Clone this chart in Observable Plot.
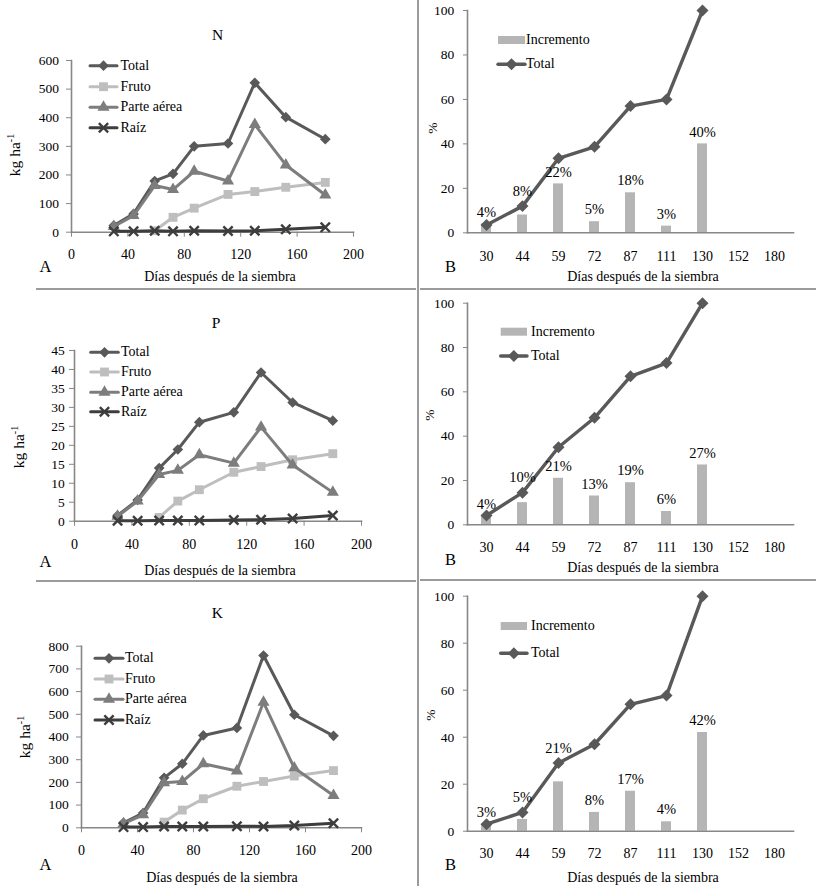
<!DOCTYPE html>
<html><head><meta charset="utf-8">
<script src="https://cdn.jsdelivr.net/npm/d3@7"></script>
<script src="https://cdn.jsdelivr.net/npm/@observablehq/plot@0.6"></script>
<style>
body{margin:0;background:#fff;}
#root{position:relative;width:816px;height:890px;overflow:hidden;font-family:"Liberation Serif","Times New Roman",serif;color:#000;background:#fff;}
.abs{position:absolute;line-height:1;white-space:nowrap;}
.sep{position:absolute;background:#9b9b9b;}
#root svg{position:absolute;}
</style></head><body><div id="root"></div><script>
// ---------------- data ----------------
const days = [30, 44, 59, 72, 87, 111, 130, 152, 180];
const seriesNames = ["Total", "Fruto", "Parte aérea", "Raíz"];
const xTicks = [0, 40, 80, 120, 160, 200];

const N_total = [23, 64, 179, 204, 300, 310, 522, 402, 325];
const N_fruto = [null, null, 5, 52, 84, 132, 142, 157, 174];
const N_aerea = [20, 58, 163, 149, 213, 179, 376, 235, 130];
const N_raiz  = [3, 3, 5, 3, 5, 4, 5, 10, 17];

const P_total = [1.5, 5.6, 14.0, 18.9, 26.1, 28.7, 39.2, 31.3, 26.5];
const P_fruto = [null, null, 1.0, 5.3, 8.3, 12.9, 14.4, 16.2, 17.8];
const P_aerea = [1.3, 5.3, 12.3, 13.4, 17.5, 15.3, 24.8, 14.8, 7.6];
const P_raiz  = [0.1, 0.1, 0.2, 0.2, 0.2, 0.3, 0.4, 0.7, 1.5];

const K_total = [22, 65, 220, 282, 407, 440, 759, 498, 405];
const K_fruto = [null, null, 25, 78, 128, 183, 204, 228, 252];
const K_aerea = [18, 57, 198, 204, 282, 250, 553, 263, 142];
const K_raiz  = [3, 3, 6, 6, 6, 7, 6, 10, 20];

const N_yTicks = [0, 100, 200, 300, 400, 500, 600];
const P_yTicks = [0, 5, 10, 15, 20, 25, 30, 35, 40, 45];
const K_yTicks = [0, 100, 200, 300, 400, 500, 600, 700, 800];

const dayLabels = ["30", "44", "59", "72", "87", "111", "130", "152", "180"];
const incDays = ["30", "44", "59", "72", "87", "111", "130"];
const pctTicks = [0, 20, 40, 60, 80, 100];
const N_inc = [4, 8, 22, 5, 18, 3, 40];
const N_cum = [3.5, 12, 33.5, 38.7, 57, 60, 100];
const P_inc = [4, 10, 21, 13, 19, 6, 27];
const P_cum = [4.2, 14.5, 35, 48.3, 67, 73, 100];
const K_inc = [3, 5, 21, 8, 17, 4, 42];
const K_cum = [3, 8, 29, 37, 54, 57.7, 100];

// ---------------- styles ----------------
const FONT = "Liberation Serif, Times New Roman, serif";
const axisGray = "#878787";
const barGray = "#b5b5b5";
const styles = [
  {color: "#595959", symbol: "diamond2", r: 4.8, filled: true},
  {color: "#bebebe", symbol: "square", r: 5.0, filled: true},
  {color: "#7d7d7d", symbol: "triangle", r: 4.5, filled: true},
  {color: "#3d3d3d", symbol: "times", r: 4.3, filled: false}
];
const d3sym = {diamond2: d3.symbolDiamond2, square: d3.symbolSquare, triangle: d3.symbolTriangle, times: d3.symbolTimes};

const root = document.getElementById("root");

function place(svg, left, top) {
  svg.style.left = left + "px";
  svg.style.top = top + "px";
  root.appendChild(svg);
}

function leftPanel(cfg) {
  const rows = [];
  cfg.series.forEach((vals, si) => vals.forEach((v, i) => {
    if (v != null) rows.push({day: days[i], value: v, s: seriesNames[si]});
  }));
  const marks = [
    Plot.frame({anchor: "left", stroke: axisGray, strokeWidth: 1.6}),
    Plot.frame({anchor: "bottom", stroke: axisGray, strokeWidth: 1.6}),
    Plot.axisX({ticks: xTicks, tickSize: 5, tickPadding: cfg.xPad, stroke: axisGray, fill: "#000", label: null, fontSize: 14}),
    Plot.axisY({ticks: cfg.yTicks, tickSize: 5, tickPadding: cfg.yPad, stroke: axisGray, fill: "#000", label: null, fontSize: 13.5})
  ];
  seriesNames.forEach((name, si) => {
    const st = styles[si];
    const d = rows.filter(r => r.s === name);
    marks.push(Plot.line(d, {x: "day", y: "value", stroke: st.color, strokeWidth: 3}));
    marks.push(Plot.dot(d, st.filled
      ? {x: "day", y: "value", symbol: st.symbol, r: st.r, fill: st.color, stroke: "none"}
      : {x: "day", y: "value", symbol: st.symbol, r: st.r, fill: "none", stroke: st.color, strokeWidth: 2.4}));
  });
  const svg = Plot.plot({
    width: cfg.width, height: cfg.height,
    marginLeft: cfg.ml, marginRight: cfg.mr, marginTop: cfg.mt, marginBottom: cfg.mb,
    x: {domain: [0, 200]},
    y: {domain: [0, cfg.yTicks[cfg.yTicks.length - 1]]},
    style: {fontFamily: FONT, fontSize: "14px", color: "#000", background: "transparent", overflow: "visible"},
    marks
  });
  place(svg, cfg.left, cfg.top);
}

function rightPanel(cfg) {
  const data = incDays.map((d, i) => ({day: d, inc: cfg.inc[i], cum: cfg.cum[i]}));
  const k = (cfg.height - cfg.mt - cfg.mb) / 100; // px per %
  data.forEach(d => {
    let ly = d.inc + 12 / k;
    if (Math.abs(ly - d.cum) * k < 10) ly = d.cum + 15 / k;
    d.ly = ly;
  });
  const svg = Plot.plot({
    width: cfg.width, height: cfg.height,
    marginLeft: cfg.ml, marginRight: cfg.mr, marginTop: cfg.mt, marginBottom: cfg.mb,
    x: {type: "band", domain: dayLabels, paddingInner: 0.72, paddingOuter: 0.36},
    y: {domain: [0, 100]},
    style: {fontFamily: FONT, fontSize: "14px", color: "#000", background: "transparent", overflow: "visible"},
    marks: [
      Plot.barY(data, {x: "day", y: "inc", fill: barGray}),
      Plot.frame({anchor: "left", stroke: axisGray, strokeWidth: 1.6}),
      Plot.frame({anchor: "bottom", stroke: axisGray, strokeWidth: 1.6}),
      Plot.axisX({tickSize: 0, tickPadding: cfg.xPad, fill: "#000", label: null, fontSize: 14}),
      Plot.axisY({ticks: pctTicks, tickSize: 4, tickPadding: cfg.yPad, stroke: axisGray, fill: "#000", label: null, fontSize: 13.5}),
      Plot.line(data, {x: "day", y: "cum", stroke: "#595959", strokeWidth: 3.4}),
      Plot.dot(data, {x: "day", y: "cum", symbol: "diamond2", r: 5.4, fill: "#595959", stroke: "none"}),
      Plot.text(data, {x: "day", y: "ly", text: d => d.inc + "%", fontSize: 14.5, fill: "#000"})
    ]
  });
  place(svg, cfg.left, cfg.top);
}

// ---------------- panels ----------------
leftPanel({left: 0, top: 0, width: 416, height: 288, ml: 71, mr: 63, mt: 60, mb: 56.3, xPad: 12, yPad: 7.4,
  yTicks: N_yTicks, series: [N_total, N_fruto, N_aerea, N_raiz]});
leftPanel({left: 0, top: 290, width: 416, height: 290, ml: 74, mr: 55, mt: 60, mb: 59.3, xPad: 13, yPad: 4.7,
  yTicks: P_yTicks, series: [P_total, P_fruto, P_aerea, P_raiz]});
leftPanel({left: 0, top: 580, width: 416, height: 310, ml: 81, mr: 55, mt: 65.7, mb: 62.7, xPad: 12.4, yPad: 7.7,
  yTicks: K_yTicks, series: [K_total, K_fruto, K_aerea, K_raiz]});

rightPanel({left: 420, top: 0, width: 396, height: 288, ml: 47, mr: 23, mt: 10, mb: 55.7, xPad: 18.4, yPad: 9.3, inc: N_inc, cum: N_cum});
rightPanel({left: 420, top: 290, width: 396, height: 290, ml: 47, mr: 23, mt: 12.7, mb: 55.7, xPad: 17.1, yPad: 9.3, inc: P_inc, cum: P_cum});
rightPanel({left: 420, top: 580, width: 396, height: 310, ml: 47, mr: 23, mt: 15.7, mb: 59.3, xPad: 17.3, yPad: 9.3, inc: K_inc, cum: K_cum});

// ---------------- text overlays ----------------
function txt(html, x, y, size, opts = {}) {
  const el = document.createElement("div");
  el.className = "abs";
  el.innerHTML = html;
  el.style.left = x + "px";
  el.style.top = y + "px";
  el.style.fontSize = size + "px";
  const tx = opts.anchor === "start" ? "0" : "-50%";
  el.style.transform = `translate(${tx},-50%)` + (opts.rotate ? ` rotate(${opts.rotate}deg)` : "");
  root.appendChild(el);
}
const xTitle = "Días después de la siembra";
const kg = 'kg ha<sup style="font-size:10px;vertical-align:6px;line-height:0">-1</sup>';

[["N", 217.7, 35], ["P", 216, 323.3], ["K", 217.3, 613.3]].forEach(([t, x, y]) => txt(t, x, y, 15.5));
[[45.5, 267], [45.5, 561.7], [45.5, 865]].forEach(([x, y]) => txt("A", x, y, 16.5));
[[450.5, 267], [450.5, 560], [450.5, 865]].forEach(([x, y]) => txt("B", x, y, 16.5));
[[220, 277], [220, 570.7], [222, 878.3], [643, 276.7], [643, 568.3], [643, 878.3]].forEach(([x, y]) => txt(xTitle, x, y, 14));
[[14.5, 155], [19, 446.7], [25, 737]].forEach(([x, y]) => txt(kg, x, y, 15.5, {rotate: -90}));
[[433, 128], [430, 415], [431, 715]].forEach(([x, y]) => txt("%", x, y, 13.5, {rotate: -90}));

// ---------------- legends ----------------
const ov = d3.select(root).append("svg").attr("width", 816).attr("height", 890)
  .style("left", "0px").style("top", "0px").style("pointer-events", "none");

function seriesLegend(x1, x2, tx, ys) {
  seriesNames.forEach((name, i) => {
    const st = styles[i], y = ys[i];
    ov.append("line").attr("x1", x1).attr("x2", x2).attr("y1", y).attr("y2", y)
      .attr("stroke", st.color).attr("stroke-width", 3).attr("stroke-linecap", "round");
    const p = ov.append("path").attr("d", d3.symbol(d3sym[st.symbol], Math.PI * st.r * st.r)())
      .attr("transform", `translate(${(x1 + x2) / 2},${y})`);
    if (st.filled) p.attr("fill", st.color);
    else p.attr("fill", "none").attr("stroke", st.color).attr("stroke-width", 2.4);
    txt(name, tx, y, 14, {anchor: "start"});
  });
}
seriesLegend(90, 117, 120.5, [65.7, 86.7, 107.3, 127.7]);
seriesLegend(90.7, 118.3, 121, [352.3, 372, 392.3, 411.7]);
seriesLegend(95, 123, 125, [658.3, 679, 699.3, 720]);

function pctLegend(x1, x2, tx, y1, y2) {
  ov.append("rect").attr("x", x1).attr("y", y1 - 4).attr("width", x2 - x1).attr("height", 8).attr("fill", barGray);
  txt("Incremento", tx, y1, 14, {anchor: "start"});
  ov.append("line").attr("x1", x1).attr("x2", x2).attr("y1", y2).attr("y2", y2)
    .attr("stroke", "#595959").attr("stroke-width", 3.4).attr("stroke-linecap", "round");
  ov.append("path").attr("d", d3.symbol(d3.symbolDiamond2, Math.PI * 5.4 * 5.4)())
    .attr("transform", `translate(${(x1 + x2) / 2},${y2})`).attr("fill", "#595959");
  txt("Total", tx, y2, 14, {anchor: "start"});
}
pctLegend(498, 525, 526, 40, 64.3);
pctLegend(500.7, 527, 531, 331.7, 356);
pctLegend(500.7, 527, 531, 626, 653.3);

// ---------------- separators ----------------
function sep(l, t, w, h) {
  const el = document.createElement("div");
  el.className = "sep";
  Object.assign(el.style, {left: l + "px", top: t + "px", width: w + "px", height: h + "px"});
  root.appendChild(el);
}
sep(417, 0, 2, 886);
sep(36, 288, 380, 2);
sep(36, 580, 380, 2);
sep(420, 288, 396, 2);
sep(420, 579, 396, 2);
</script></body></html>
